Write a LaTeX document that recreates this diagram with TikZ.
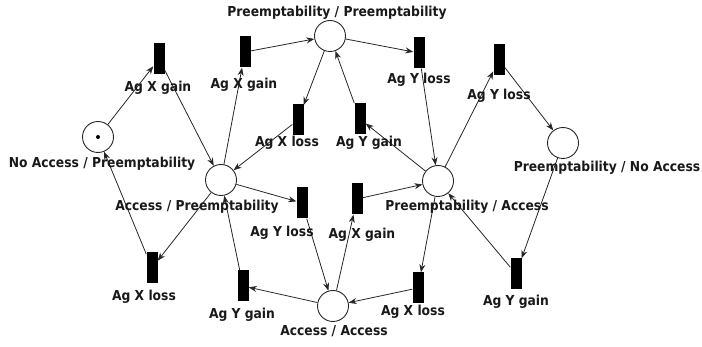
\documentclass[tikz,border=0pt]{standalone}
\usepackage{fontspec}
\setmainfont{DejaVu Sans Condensed}
\usetikzlibrary{arrows.meta}
\begin{document}
\begin{tikzpicture}[x=1pt,y=-1pt,
  every node/.style={inner sep=0pt},
  place/.style={circle,draw=black!85,line width=0.9pt,minimum size=31pt,fill=white},
  trans/.style={rectangle,fill=black,minimum width=11pt,minimum height=31pt},
  lbl/.style={font=\fontsize{13.7}{15}\selectfont\bfseries,text=black!90},
  arc/.style={draw=black!85,line width=0.8pt,-{Stealth[length=8pt,width=6pt]}}]
\useasboundingbox (0,0) rectangle (702,347);

% places
\node[place] (p0) at (98,137) {};
\node[place] (p1) at (221,180) {};
\node[place] (p2) at (330,36) {};
\node[place] (p3) at (438,181) {};
\node[place] (p4) at (333,306) {};
\node[place] (p5) at (563,143) {};
\fill[black] (p0.center) circle (2pt);

% transitions
\node[trans] (t1) at (159,59) {};
\node[trans] (t2) at (245,52) {};
\node[trans] (t3) at (419,53) {};
\node[trans] (t4) at (499,60) {};
\node[trans] (t5) at (298,120) {};
\node[trans] (t6) at (360,119) {};
\node[trans] (t7) at (302,203) {};
\node[trans] (t8) at (357,199) {};
\node[trans] (t9) at (152,268) {};
\node[trans] (t10) at (243,286) {};
\node[trans] (t11) at (418,288) {};
\node[trans] (t12) at (516,274) {};

% arcs
\draw[arc] (p0) -- (t1);
\draw[arc] (t1) -- (p1);
\draw[arc] (p1) -- (t2);
\draw[arc] (t2) -- (p2);
\draw[arc] (p2) -- (t3);
\draw[arc] (p2) -- (t5);
\draw[arc] (t6) -- (p2);
\draw[arc] (t5) -- (p1);
\draw[arc] (p3) -- (t6);
\draw[arc] (t3) -- (p3);
\draw[arc] (p3) -- (t4);
\draw[arc] (t4) -- (p5);
\draw[arc] (p5) -- (t12);
\draw[arc] (t12) -- (p3);
\draw[arc] (p3) -- (t11);
\draw[arc] (t11) -- (p4);
\draw[arc] (p4) -- (t10);
\draw[arc] (t10) -- (p1);
\draw[arc] (p1) -- (t7);
\draw[arc] (t7) -- (p4);
\draw[arc] (p4) -- (t8);
\draw[arc] (t8) -- (p3);
\draw[arc] (p1) -- (t9);
\draw[arc] (t9) -- (p0);

% place labels
\node[lbl] (lp0) at (102,164) {No Access / Preemptability};
\node[lbl] (lp1) at (197,207) {Access / Preemptability};
\node[lbl] (lp2) at (337,13) {Preemptability / Preemptability};
\node[lbl] (lp3) at (467,207) {Preemptability / Access};
\node[lbl] (lp5) at (607,168) {Preemptability / No Access};
\node[lbl] (lp4) at (334,331) {Access / Access};

% transition labels
\node[lbl] (lt1) at (158,88) {Ag X gain};
\node[lbl] (lt2) at (244,85) {Ag X gain};
\node[lbl] (lt3) at (419,80) {Ag Y loss};
\node[lbl] (lt4) at (499,96) {Ag Y loss};
\node[lbl] (lt5) at (287,143) {Ag X loss};
\node[lbl] (lt6) at (369,143) {Ag Y gain};
\node[lbl] (lt7) at (282,233) {Ag Y loss};
\node[lbl] (lt8) at (362,235) {Ag X gain};
\node[lbl] (lt9) at (144,297) {Ag X loss};
\node[lbl] (lt10) at (242,315) {Ag Y gain};
\node[lbl] (lt11) at (413,312) {Ag X loss};
\node[lbl] (lt12) at (516,302) {Ag Y gain};
\end{tikzpicture}
\end{document}
